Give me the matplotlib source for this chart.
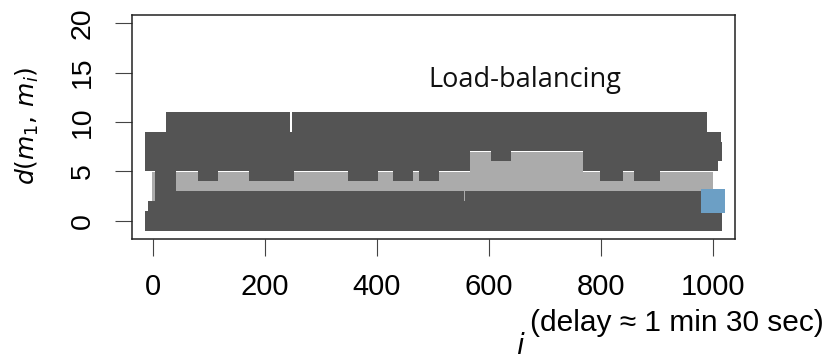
import matplotlib
matplotlib.use('Agg')
import matplotlib.pyplot as plt
from matplotlib import font_manager

# ---------------- data ----------------
# runs of points (index i from start to end) at levels lo..hi of d(m1, mi)
dark_start = [2, 8, 20, 575, 20, 2, 2, 786, 786, 622, 98, 189, 365, 446, 492, 816, 876, 40, 265]
dark_end   = [1000, 1000, 538, 1000, 24, 997, 549, 1000, 993, 623, 99, 234, 384, 447, 493, 822, 889, 228, 972]
dark_lo    = [0, 1, 2, 2, 3, 8, 6, 7, 6, 7, 5, 5, 5, 5, 5, 5, 5, 9, 9]
dark_hi    = [0, 1, 2, 2, 5, 8, 7, 7, 6, 7, 5, 5, 5, 5, 5, 5, 5, 10, 10]

light_start = [16, 584]
light_end   = [984, 751]
light_lo    = [3, 5]
light_hi    = [4, 6]

last_i = [1000]
last_d = [2]

x_ticks = [0, 200, 400, 600, 800, 1000]
y_ticks = [0, 5, 10, 15, 20]
annotation = "Load-balancing"
delay_text = "(delay \u2248 1 min 30 sec)"

# ---------------- style ----------------
W, H = 827, 361
DARK = '#545454'
LIGHT = '#ABABAB'
BLUE = '#6C9FC5'
HW = 17.35   # half width of a point square in x data units
HH = 0.98    # half height of a point square in y data units

avail = {f.name for f in font_manager.fontManager.ttflist}
narrow = 'Liberation Sans Narrow' if 'Liberation Sans Narrow' in avail else 'Liberation Sans'

fig = plt.figure(figsize=(W / 100, H / 100), dpi=100)
ax = fig.add_axes([132 / W, 1 - 239 / H, (735 - 132) / W, (239 - 15) / H])


def draw_runs(starts, ends, los, his, color, z):
    for s, e, lo, hi in zip(starts, ends, los, his):
        ax.bar((s + e) / 2, (hi - lo) + 2 * HH, width=(e - s) + 2 * HW, bottom=lo - HH,
               color=color, linewidth=0, zorder=z)


draw_runs(light_start, light_end, light_lo, light_hi, LIGHT, 2)
draw_runs(dark_start, dark_end, dark_lo, dark_hi, DARK, 3)
ax.plot(last_i, last_d, marker='s', markersize=16.6, markeredgewidth=0,
        color=BLUE, linestyle='none', zorder=4)

ax.set_xlim(2 - 0.04 * 998, 1000 + 0.04 * 998)
ax.set_ylim(-1 - 0.04 * 21, 20 + 0.04 * 21)
ax.set_xticks(x_ticks)
ax.set_yticks(y_ticks)
ax.set_xticklabels([str(v) for v in x_ticks], fontsize=21, family=narrow)
ax.set_yticklabels([str(v) for v in y_ticks], fontsize=20.5, family=narrow,
                   rotation=90, va='center')
ax.tick_params(axis='both', length=12, width=0.8, color='#444444')
ax.tick_params(axis='x', pad=12.5)
ax.tick_params(axis='y', pad=14)
for sp in ax.spines.values():
    sp.set_linewidth(1.1)
    sp.set_color('#222222')

ax.text(664, 14.3, annotation, fontsize=19.5, family='Open Sans',
        ha='center', va='center', color='#111111')

fig.text(27 / W, 1 - 126 / H, r'$d(m_1,\, m_i)$', fontsize=18, rotation=90,
         ha='center', va='center')
fig.text(824 / W, 1 - 323 / H, delay_text, fontsize=21.5, family=[narrow, 'DejaVu Sans'],
         ha='right', va='center')
fig.text(521 / W, 1 - 346 / H, r'$i$', fontsize=20, ha='center', va='center')

fig.savefig('out.png', dpi=100)
